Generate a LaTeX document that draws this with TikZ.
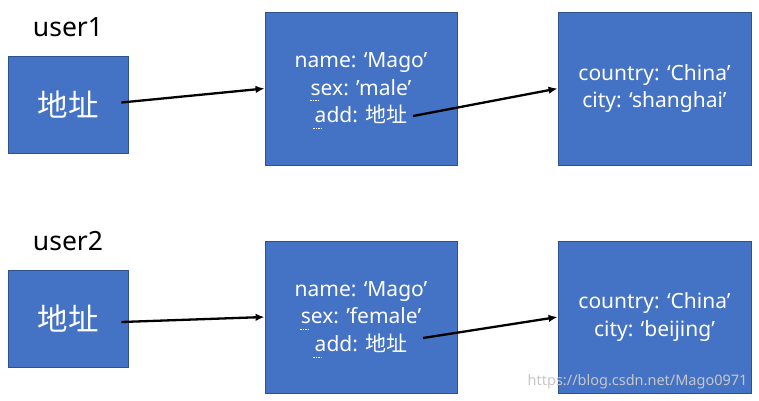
\documentclass[tikz,border=0pt]{standalone}
\usepackage{fontspec}
\setmainfont{Noto Sans}
\newfontfamily\cjk{Noto Sans CJK SC}
\usepackage{xcolor}
\usetikzlibrary{arrows.meta}
\definecolor{boxblue}{HTML}{4472C4}
\definecolor{boxline}{HTML}{2F528F}
\begin{document}
\begin{tikzpicture}[>={Latex[length=9pt,width=7.5pt]}, x=1pt, y=-1pt,
  box/.style={draw=boxline, fill=boxblue, text=white, align=center,
    inner sep=0pt, line width=0.8pt},
  small/.style={box, minimum width=120pt, minimum height=97pt,
    font=\cjk\fontsize{30.5}{34}\selectfont},
  big/.style={box, minimum width=192pt, minimum height=153pt,
    font=\fontsize{21}{27.5}\selectfont},
  ptr/.style={->, line width=2.3pt},
  squiggle/.style={white, line width=0.6pt, dash pattern=on 1.5pt off 1pt}]
  \useasboundingbox (0,0) rectangle (759,400);
  % user1
  \node[font=\fontsize{26.5}{30}\selectfont] (u1) at (68,27) {user1};
  \node[small] (a1) at (68,104.5) {地址};
  \node[big] (b1) at (361,88.5) {name: ‘Mago’\\ sex: ’male’\\ add: {\cjk 地址}};
  \node[big, minimum width=193pt] (c1) at (654.5,88.5) {country: ‘China’\\ city: ‘shanghai’};
  \coordinate (add1) at (413,116);
  \draw[ptr] ([xshift=-7pt,yshift=2pt]a1.east) -- (b1.west);
  \draw[ptr] (add1) -- (c1.west);
  % user2
  \node[font=\fontsize{26.5}{30}\selectfont] (u2) at (68,241) {user2};
  \node[small] (a2) at (68,318.5) {地址};
  \node[big, minimum height=152pt] (b2) at (361,317) {name: ‘Mago’\\ sex: ’female’\\ add: {\cjk 地址}};
  \node[big, minimum width=193pt, minimum height=152pt] (c2) at (654.5,317) {country: ‘China’\\ city: ‘beijing’};
  \coordinate (add2) at (423,338);
  \draw[ptr] ([xshift=-7pt,yshift=-3.5pt]a2.east) -- (b2.west);
  \draw[ptr] (add2) -- (c2.west);
  % Stavekontroll-merker
  \draw[squiggle] (310,100) -- (318,100);
  \draw[squiggle] (313,128) -- (322,128);
  \draw[squiggle] (300,329) -- (308,329);
  \draw[squiggle] (313,357) -- (322,357);
  % vannmerke
  \node[anchor=east, text=black!22, font=\fontsize{14.5}{17}\selectfont] (wm) at (751,382) {https://blog.csdn.net/Mago0971};
\end{tikzpicture}
\end{document}
